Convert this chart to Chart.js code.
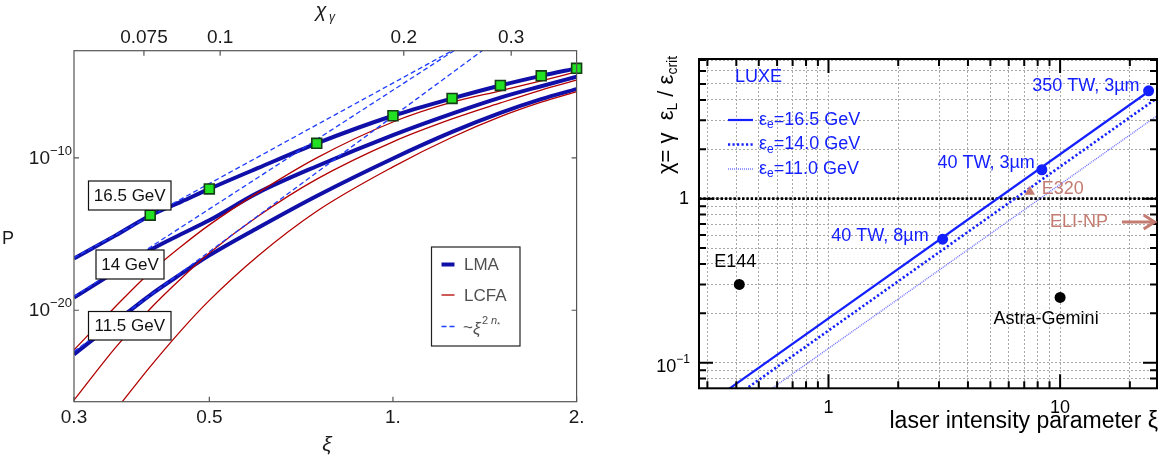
<!DOCTYPE html>
<html>
<head>
<meta charset="utf-8">
<script src="https://cdn.jsdelivr.net/npm/chart.js@4.4.1/dist/chart.umd.min.js"></script>
<style>
  body { margin: 0; background: #fff; }
  #wrap { position: relative; width: 1167px; height: 461px; }
  #left { position: absolute; left: 0; top: 0; }
  #right { position: absolute; left: 600px; top: 0; }
</style>
</head>
<body>
<div id="wrap">
  <canvas id="left" width="600" height="461"></canvas>
  <canvas id="right" width="567" height="461"></canvas>
</div>
<script>
// ---------- left panel: probability P vs xi (values are log10 P) ----------
const xiGrid  = [0.3, 0.35, 0.4, 0.45, 0.5, 0.6, 0.75, 1.0, 1.25, 1.5, 1.75, 2.0];
const lma165  = [-16.61, -15.12, -13.78, -12.87, -12.04, -10.68, -9.05, -7.24, -6.10, -5.25, -4.62, -4.13];
const lma140  = [-19.17, -17.5, -16.05, -15.0, -14.1, -12.3, -10.55, -8.51, -7.1, -6.05, -5.3, -4.68];
const lma115  = [-22.89, -20.8, -19.0, -17.6, -16.4, -14.6, -12.5, -10.04, -8.3, -7.05, -6.15, -5.49];
const lcfa165 = [-22.6, -19.8, -17.5, -15.8, -14.4, -12.3, -10.0, -7.65, -6.35, -5.6, -4.95, -4.35];
const lcfa140 = [-25.9, -22.5, -19.9, -17.9, -16.25, -13.85, -11.4, -8.95, -7.45, -6.4, -5.55, -4.9];
const lcfa115Xi = [0.36, 0.4, 0.45, 0.5, 0.6, 0.75, 1.0, 1.25, 1.5, 1.75, 2.0];
const lcfa115   = [-26.0, -23.7, -21.3, -19.35, -16.45, -13.5, -10.59, -8.65, -7.3, -6.35, -5.65];
// perturbative asymptotes ~ xi^(2 n*), straight in log-log
const asym165Xi = [0.3, 1.3],  asym165 = [-16.55, -2.6];
const asym140Xi = [0.3, 1.3],  asym140 = [-19.1, -2.61];
const asym115Xi = [0.3, 1.45], asym115 = [-22.7, -2.52];
// green squares on the 16.5 GeV LMA curve
const sqXi = [0.4, 0.5, 0.75, 1.0, 1.25, 1.5, 1.75, 2.0];
const sqP  = [-13.76, -12.04, -9.05, -7.24, -6.10, -5.25, -4.62, -4.13];

const xiTicks = [0.3, 0.5, 1, 2];
const xiTickLabels = ["0.3", "0.5", "1.", "2."];
const pTicks = [1e-10, 1e-20];
const pTickExp = ["\u221210", "\u221220"];
const chiTopTicks = [0.075, 0.1, 0.2, 0.3];
const chiTopLabels = ["0.075", "0.1", "0.2", "0.3"];
const chiPerXi = 0.192; // chi_gamma / xi for the top axis

// ---------- right panel: chi vs xi ----------
const line165Xi = [0.36, 24.1], line165Chi = [0.067, 4.5];
const line140Xi = [0.42, 26.2], line140Chi = [0.066, 4.1];
const line110Xi = [0.54, 26.2], line110Chi = [0.066, 3.2];
const critXi = [0.276, 26.2], critChi = [1, 1];
const luxeXi = [3.11, 8.34, 24.1];
const luxeChi = [0.566, 1.5, 4.54];
const luxeNames = ["40 TW, 8\u00b5m", "40 TW, 3\u00b5m", "350 TW, 3\u00b5m"];
const otherXi = [0.412, 10.0];
const otherChi = [0.30, 0.25];
const otherNames = ["E144", "Astra-Gemini"];
const e320Xi = [7.4], e320Chi = [1.1];
const eliXi = [18.5, 25.6], eliChi = [0.72, 0.72];

const gridXi = [0.3, 0.4, 0.5, 0.6, 0.7, 0.8, 0.9, 1, 2, 3, 4, 5, 6, 7, 8, 9, 10, 20];
const gridChi = [0.08, 0.09, 0.1, 0.2, 0.3, 0.4, 0.5, 0.6, 0.7, 0.8, 0.9, 1, 2, 3, 4, 5, 6, 7];
const xiMajor = [1, 10];
const chiMajor = [0.1, 1];

const FONT = '"Liberation Sans", Arial, sans-serif';

function logPts(xs, es) { return xs.map((v, i) => ({ x: v, y: Math.pow(10, es[i]) })); }
function pts(xs, ys) { return xs.map((v, i) => ({ x: v, y: ys[i] })); }

function powLabel(ctx, exp, xRight, yMid, size) {
  ctx.font = size + "px " + FONT;
  const bw = ctx.measureText("10").width;
  const es = Math.round(size * 0.68);
  ctx.font = es + "px " + FONT;
  const ew = ctx.measureText(exp).width;
  const x0 = xRight - bw - ew;
  ctx.textAlign = "left";
  ctx.textBaseline = "middle";
  ctx.font = size + "px " + FONT;
  ctx.fillText("10", x0, yMid + 1);
  ctx.font = es + "px " + FONT;
  ctx.fillText(exp, x0 + bw, yMid - size * 0.36);
}

// ---------- left decorations ----------
const leftDecor = {
  id: "leftDecor",
  afterDatasetsDraw(chart) {
    const { ctx, chartArea: a, scales } = chart;
    const x = scales.x, y = scales.y;
    ctx.save();
    // frame
    ctx.strokeStyle = "#555";
    ctx.lineWidth = 1.2;
    ctx.strokeRect(a.left, a.top, a.right - a.left, a.bottom - a.top);
    // ticks
    ctx.beginPath();
    xiTicks.forEach(v => {
      const px = x.getPixelForValue(v);
      ctx.moveTo(px, a.bottom); ctx.lineTo(px, a.bottom - 5);
    });
    chiTopTicks.forEach(v => {
      const px = x.getPixelForValue(v / chiPerXi);
      ctx.moveTo(px, a.top); ctx.lineTo(px, a.top + 5);
    });
    pTicks.forEach(v => {
      const py = y.getPixelForValue(v);
      ctx.moveTo(a.left, py); ctx.lineTo(a.left + 5, py);
      ctx.moveTo(a.right, py); ctx.lineTo(a.right - 5, py);
    });
    ctx.stroke();

    // tick labels
    ctx.fillStyle = "#1a1a1a";
    ctx.font = "19px " + FONT;
    ctx.textAlign = "center";
    ctx.textBaseline = "middle";
    xiTicks.forEach((v, i) => ctx.fillText(xiTickLabels[i], x.getPixelForValue(v), 418));
    chiTopTicks.forEach((v, i) => {
      ctx.font = "19px " + FONT;
      ctx.textAlign = "center";
      ctx.fillText(chiTopLabels[i], x.getPixelForValue(v / chiPerXi), 38);
    });
    pTicks.forEach((v, i) => powLabel(ctx, pTickExp[i], a.left - 2, y.getPixelForValue(v), 19));

    // axis titles
    ctx.textAlign = "center";
    ctx.font = "italic 21px " + FONT;
    ctx.fillText("\u03be", 327, 445);
    ctx.font = "italic 20px " + FONT;
    ctx.fillText("\u03c7", 321, 11);
    ctx.font = "italic 12px " + FONT;
    ctx.fillText("\u03b3", 332, 18);
    ctx.font = "18px " + FONT;
    ctx.fillText("P", 8, 239);

    // energy labels
    const boxes = [
      ["16.5 GeV", 88.5, 181, 171, 210],
      ["14 GeV", 96, 250, 164, 279],
      ["11.5 GeV", 88.5, 311.5, 171, 340]
    ];
    boxes.forEach(b => {
      ctx.fillStyle = "#fff";
      ctx.fillRect(b[1], b[2], b[3] - b[1], b[4] - b[2]);
      ctx.strokeStyle = "#111";
      ctx.lineWidth = 1.2;
      ctx.strokeRect(b[1], b[2], b[3] - b[1], b[4] - b[2]);
      ctx.fillStyle = "#111";
      ctx.font = "17px " + FONT;
      ctx.fillText(b[0], (b[1] + b[3]) / 2, (b[2] + b[4]) / 2 + 1);
    });

    // legend
    ctx.fillStyle = "#fff";
    ctx.fillRect(431.5, 247, 88.5, 99);
    ctx.strokeStyle = "#222";
    ctx.lineWidth = 1.2;
    ctx.strokeRect(431.5, 247, 88.5, 99);
    ctx.lineCap = "butt";
    ctx.strokeStyle = "#1010a8"; ctx.lineWidth = 4;
    ctx.beginPath(); ctx.moveTo(441.5, 264.5); ctx.lineTo(454.5, 264.5); ctx.stroke();
    ctx.strokeStyle = "#b30000"; ctx.lineWidth = 1.3;
    ctx.beginPath(); ctx.moveTo(441.5, 295); ctx.lineTo(454.5, 295); ctx.stroke();
    ctx.strokeStyle = "#1f3dff"; ctx.lineWidth = 1.5;
    ctx.setLineDash([5, 3]);
    ctx.beginPath(); ctx.moveTo(441.5, 326.5); ctx.lineTo(455, 326.5); ctx.stroke();
    ctx.setLineDash([]);
    ctx.fillStyle = "#505050";
    ctx.textAlign = "left";
    ctx.font = "17px " + FONT;
    ctx.fillText("LMA", 464, 265);
    ctx.fillText("LCFA", 464, 296);
    ctx.fillText("~", 463, 328);
    ctx.font = "italic 17px " + FONT;
    ctx.fillText("\u03be", 473, 329);
    ctx.font = "11px " + FONT;
    ctx.fillText("2", 482, 321);
    ctx.font = "italic 11px " + FONT;
    ctx.fillText("n", 491, 321);
    ctx.font = "8px " + FONT;
    ctx.fillText("*", 497, 325);
    ctx.restore();
  }
};

new Chart(document.getElementById("left"), {
  type: "line",
  data: {
    datasets: [
      { data: logPts(sqXi, sqP), showLine: false, pointStyle: "rect", pointRadius: 7,
        pointBackgroundColor: "#22e022", pointBorderColor: "#153d15", pointBorderWidth: 1.6,
        clip: false, order: 0 },
      { data: logPts(asym165Xi, asym165), borderColor: "#1f3dff", borderWidth: 1.3, borderDash: [5, 3], order: 1 },
      { data: logPts(asym140Xi, asym140), borderColor: "#1f3dff", borderWidth: 1.3, borderDash: [5, 3], order: 1 },
      { data: logPts(asym115Xi, asym115), borderColor: "#1f3dff", borderWidth: 1.3, borderDash: [5, 3], order: 1 },
      { data: logPts(xiGrid, lcfa165), borderColor: "#b30000", borderWidth: 1.3, order: 2 },
      { data: logPts(xiGrid, lcfa140), borderColor: "#b30000", borderWidth: 1.3, order: 2 },
      { data: logPts(lcfa115Xi, lcfa115), borderColor: "#b30000", borderWidth: 1.3, order: 2 },
      { data: logPts(xiGrid, lma165), borderColor: "#1010a8", borderWidth: 4, order: 3 },
      { data: logPts(xiGrid, lma140), borderColor: "#1010a8", borderWidth: 4, order: 3 },
      { data: logPts(xiGrid, lma115), borderColor: "#1010a8", borderWidth: 4, order: 3 }
    ]
  },
  options: {
    responsive: false,
    animation: false,
    layout: { padding: { left: 74, right: 23.4, top: 50.7, bottom: 59.3 } },
    elements: {
      point: { radius: 0 },
      line: { cubicInterpolationMode: "monotone", fill: false }
    },
    scales: {
      x: { type: "logarithmic", min: 0.3, max: 2, display: false },
      y: { type: "logarithmic", min: 1e-26, max: 1.07e-3, display: false }
    },
    plugins: { legend: { display: false }, tooltip: { enabled: false } }
  },
  plugins: [leftDecor]
});

// ---------- right decorations ----------
const BLUE = "#1420ff";
const ROSE = "#c47c72";

const rightDecor = {
  id: "rightDecor",
  afterDatasetsDraw(chart) {
    const { ctx, chartArea: a, scales } = chart;
    const x = scales.x, y = scales.y;
    ctx.save();
    // frame and ticks
    ctx.strokeStyle = "#000";
    ctx.lineWidth = 2;
    ctx.strokeRect(a.left, a.top, a.right - a.left, a.bottom - a.top);
    ctx.beginPath();
    gridXi.forEach(v => {
      const px = x.getPixelForValue(v);
      const len = xiMajor.includes(v) ? 14 : 7;
      ctx.moveTo(px, a.bottom); ctx.lineTo(px, a.bottom - len);
      ctx.moveTo(px, a.top); ctx.lineTo(px, a.top + len);
    });
    gridChi.forEach(v => {
      const py = y.getPixelForValue(v);
      const len = chiMajor.includes(v) ? 14 : 7;
      ctx.moveTo(a.left, py); ctx.lineTo(a.left + len, py);
      ctx.moveTo(a.right, py); ctx.lineTo(a.right - len, py);
    });
    ctx.stroke();

    // tick labels
    ctx.fillStyle = "#000";
    ctx.font = "18px " + FONT;
    ctx.textAlign = "center";
    ctx.textBaseline = "middle";
    xiMajor.forEach(v => ctx.fillText(String(v), x.getPixelForValue(v), 408));
    ctx.textAlign = "right";
    ctx.fillText("1", a.left - 10, y.getPixelForValue(1));
    powLabel(ctx, "\u22121", a.left - 9, y.getPixelForValue(0.1) + 3, 18);

    // axis titles
    ctx.textAlign = "right";
    ctx.font = "23px " + FONT;
    ctx.fillText("laser intensity parameter \u03be", a.right + 1, 422);

    ctx.save();
    ctx.translate(67, 115);
    ctx.rotate(-Math.PI / 2);
    const parts = [
      ["\u03c7= \u03b3  \u03b5", 22, 0],
      ["L", 14, 6],
      [" / \u03b5", 22, 0],
      ["crit", 14, 6]
    ];
    let total = 0;
    parts.forEach(p => { ctx.font = p[1] + "px " + FONT; total += ctx.measureText(p[0]).width; });
    let cx = -total / 2;
    ctx.textAlign = "left";
    parts.forEach(p => {
      ctx.font = p[1] + "px " + FONT;
      ctx.fillText(p[0], cx, p[2]);
      cx += ctx.measureText(p[0]).width;
    });
    ctx.restore();

    // LUXE legend
    ctx.fillStyle = BLUE;
    ctx.textAlign = "left";
    ctx.font = "18px " + FONT;
    ctx.fillText("LUXE", 135, 77);
    const rows = [
      ["16.5 GeV", 120, [], 2.2, BLUE],
      ["14.0 GeV", 144.5, [2.2, 2.3], 2.6, BLUE],
      ["11.0 GeV", 169, [1, 1], 1.4, "#6e6eff"]
    ];
    rows.forEach(r => {
      ctx.strokeStyle = r[4];
      ctx.lineWidth = r[3];
      ctx.setLineDash(r[2]);
      ctx.beginPath(); ctx.moveTo(128, r[1]); ctx.lineTo(153, r[1]); ctx.stroke();
      ctx.setLineDash([]);
      ctx.fillStyle = BLUE;
      ctx.font = "18px " + FONT;
      ctx.fillText("\u03b5", 159, r[1]);
      const w1 = ctx.measureText("\u03b5").width;
      ctx.font = "12px " + FONT;
      ctx.fillText("e", 159 + w1, r[1] + 5);
      const w2 = ctx.measureText("e").width;
      ctx.font = "18px " + FONT;
      ctx.fillText("=" + r[0], 159 + w1 + w2, r[1]);
    });

    // annotations next to the points
    const luxeMeta = chart.getDatasetMeta(0).data;
    const luxeOff = [[-14, -3], [-7, -7], [-9, -5]];
    ctx.fillStyle = BLUE;
    ctx.font = "18px " + FONT;
    ctx.textAlign = "right";
    luxeMeta.forEach((p, i) => ctx.fillText(luxeNames[i], p.x + luxeOff[i][0], p.y + luxeOff[i][1]));

    const otherMeta = chart.getDatasetMeta(1).data;
    const otherOff = [[-4, -22], [-14, 22]];
    ctx.fillStyle = "#000";
    ctx.textAlign = "center";
    otherMeta.forEach((p, i) => ctx.fillText(otherNames[i], p.x + otherOff[i][0], p.y + otherOff[i][1]));

    const e320 = chart.getDatasetMeta(2).data[0];
    ctx.fillStyle = ROSE;
    ctx.textAlign = "left";
    ctx.fillText("E320", e320.x + 12, e320.y - 3);

    const eli = chart.getDatasetMeta(3).data;
    ctx.textAlign = "right";
    ctx.fillText("ELI-NP", eli[0].x - 14, eli[0].y);
    ctx.strokeStyle = ROSE;
    ctx.lineWidth = 3;
    ctx.beginPath();
    ctx.moveTo(eli[1].x - 11, eli[1].y - 7);
    ctx.lineTo(eli[1].x, eli[1].y);
    ctx.lineTo(eli[1].x - 11, eli[1].y + 7);
    ctx.stroke();
    ctx.restore();
  }
};

new Chart(document.getElementById("right"), {
  type: "line",
  data: {
    datasets: [
      { data: pts(luxeXi, luxeChi), showLine: false, pointRadius: 5.5, pointBackgroundColor: BLUE,
        pointBorderWidth: 0, clip: false, order: 0 },
      { data: pts(otherXi, otherChi), showLine: false, pointRadius: 5.5, pointBackgroundColor: "#000",
        pointBorderWidth: 0, order: 0 },
      { data: pts(e320Xi, e320Chi), showLine: false, pointStyle: "triangle", pointRadius: 6,
        pointBackgroundColor: ROSE, pointBorderWidth: 0, order: 0 },
      { data: pts(eliXi, eliChi), borderColor: ROSE, borderWidth: 3, order: 1 },
      { data: pts(line165Xi, line165Chi), borderColor: BLUE, borderWidth: 2.2, order: 2 },
      { data: pts(line140Xi, line140Chi), borderColor: BLUE, borderWidth: 2.6, borderDash: [2.2, 2.3], order: 2 },
      { data: pts(line110Xi, line110Chi), borderColor: "#6e6eff", borderWidth: 1.4, borderDash: [1, 1], order: 2 },
      { data: pts(critXi, critChi), borderColor: "#000", borderWidth: 2.8, borderDash: [2.5, 1.8], order: 3 }
    ]
  },
  options: {
    responsive: false,
    animation: false,
    layout: { padding: { left: 99, right: 10, top: 59, bottom: 72.7 } },
    elements: { point: { radius: 0 }, line: { tension: 0, fill: false } },
    scales: {
      x: {
        type: "logarithmic", min: 0.276, max: 26.2,
        afterBuildTicks: s => { s.ticks = gridXi.map(v => ({ value: v })); },
        ticks: { display: false },
        grid: { color: "#a8a8a8", lineWidth: 1, drawTicks: false },
        border: { display: false, dash: [2, 2] }
      },
      y: {
        type: "logarithmic", min: 0.0698, max: 7.1,
        afterBuildTicks: s => { s.ticks = gridChi.map(v => ({ value: v })); },
        ticks: { display: false },
        grid: { color: "#a8a8a8", lineWidth: 1, drawTicks: false },
        border: { display: false, dash: [2, 2] }
      }
    },
    plugins: { legend: { display: false }, tooltip: { enabled: false } }
  },
  plugins: [rightDecor]
});
</script>
</body>
</html>
